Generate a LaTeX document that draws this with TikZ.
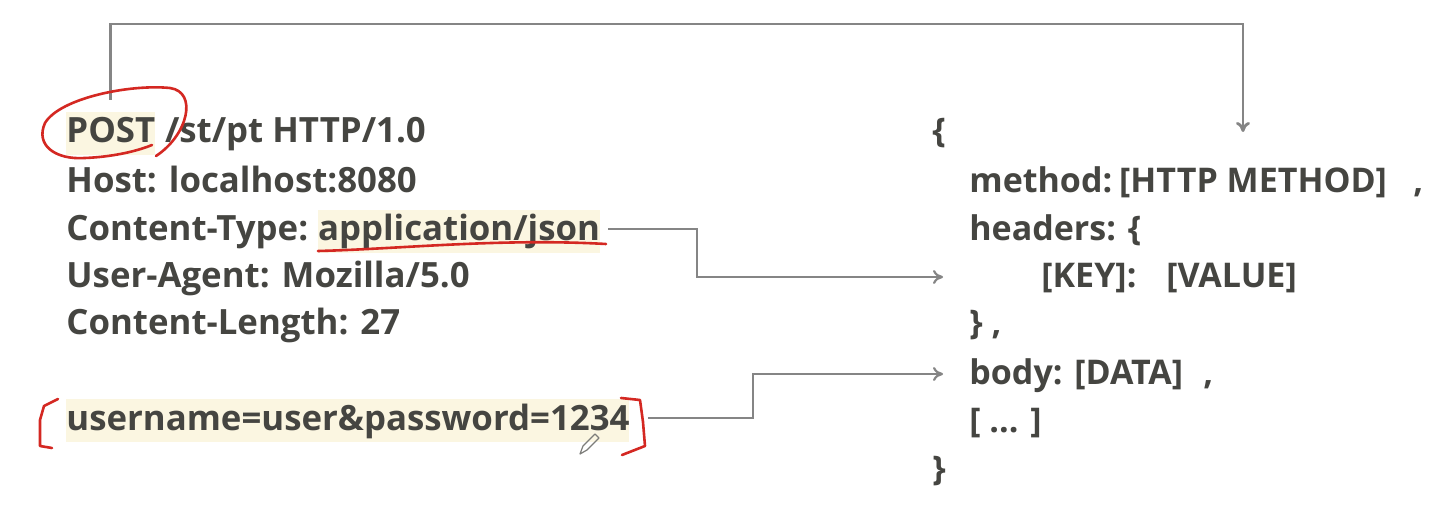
\documentclass[tikz,border=0pt]{standalone}
\usepackage{fontspec}
\setmainfont{Open Sans}
\usetikzlibrary{arrows.meta, positioning}

\definecolor{ink}{HTML}{454541}
\definecolor{wire}{HTML}{858585}
\definecolor{marker}{HTML}{D42822}
\definecolor{glow}{HTML}{FBF6E1}

\tikzset{
  txt/.style={anchor=base west, inner sep=0pt, text=ink,
    font=\fontsize{17.4}{22}\selectfont\bfseries},
  obj/.style={txt, font=\fontsize{17}{22}\selectfont\bfseries},
  hl/.style={fill=glow, inner xsep=0pt, inner ysep=2pt,
    text height=13.5pt, text depth=4pt},
  link/.style={draw=wire, line width=1.1pt, -{To[length=5pt,width=7pt]}},
  pen/.style={draw=marker, line width=1.3pt, line cap=round, line join=round},
}

\begin{document}
\begin{tikzpicture}[x=0.5pt, y=-0.5pt]
  \useasboundingbox (0,0) rectangle (1446,518);
  \fill[white] (0,0) rectangle (1446,518);

  % raw request
  \node[txt, hl] (post) at (66,143) {POST};
  \node[txt] (path) at ([xshift=4.5pt]post.base east) {/st/pt HTTP/1.0};
  \node[txt] (host) at (66,193) {Host: localhost:8080};
  \node[txt] (ctype) at (66,241) {Content-Type:};
  \node[txt, hl] (ctypev) at ([xshift=4.5pt]ctype.base east) {application/json};
  \node[txt] (agent) at (66,288) {User-Agent: Mozilla/5.0};
  \node[txt] (clen) at (66,335) {Content-Length: 27};
  \node[txt, hl] (payload) at (66,430) {username=user\&password=1234};

  % parsed object
  \node[obj] (open) at (932,143) {\{};
  \node[obj] (method) at (969,193) {method:\hspace{3.5pt}[HTTP METHOD]};
  \node[obj] (mcomma) at (1413,193) {,};
  \node[obj] (headers) at (969,241) {headers: \{};
  \node[obj] (pair) at (1041,288) {[KEY]:\hspace{15pt}[VALUE]};
  \node[obj] (hclose) at (969,335) {\} ,};
  \node[obj] (body) at (969,384) {body: [DATA]};
  \node[obj] (bcomma) at (1203,384) {,};
  \node[obj] (more) at (969,432) {[ ... ]};
  \node[obj] (close) at (932,480) {\}};

  % connectors
  \coordinate (ceiling) at (0,24);
  \coordinate (methodin) at (1243,132);
  \coordinate (keyin) at (943,277);
  \coordinate (bodyin) at (943,374);
  \coordinate (bendA) at (697,0);
  \coordinate (bendB) at (753,0);
  \draw[link, line width=1.4pt] ([yshift=6pt]post.north) -- (post.north |- ceiling)
    -- (ceiling -| methodin) -- (methodin);
  \draw[link] ([xshift=4pt,yshift=6pt]ctypev.base east) coordinate (ctypeout)
    -- (ctypeout -| bendA) |- (keyin);
  \draw[link] ([xshift=9pt,yshift=6pt]payload.base east) coordinate (payloadout)
    -- (payloadout -| bendB) |- (bodyin);

  % red marks
  \draw[pen] (156,156) .. controls (188,135) and (198,92) .. (170,88)
    .. controls (130,84) and (60,98) .. (45,123)
    .. controls (35,145) and (55,160) .. (85,158)
    .. controls (110,157) and (135,152) .. (152,145);
  \draw[pen] (318,251) .. controls (400,249) and (500,238) .. (606,244);
  \draw[pen] (58,399) -- (44,406) -- (40,420) -- (40,446) -- (52,448);
  \draw[pen] (621,398) -- (640,400) -- (643,422) -- (645,446) -- (622,455);

  % pencil cursor
  \draw[ink!70, line width=.6pt, line join=round]
    (580,454) -- (583,446) -- (595,434) -- (599,438) -- (587,450) -- cycle;
\end{tikzpicture}
\end{document}
